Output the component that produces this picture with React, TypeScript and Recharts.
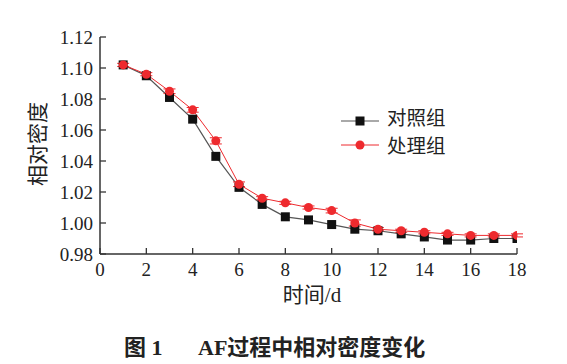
import React from 'react';
import { LineChart, Line, XAxis, YAxis, ErrorBar } from 'recharts';

const days = [1, 2, 3, 4, 5, 6, 7, 8, 9, 10, 11, 12, 13, 14, 15, 16, 17, 18];
const controlValues = [1.102, 1.095, 1.081, 1.067, 1.043, 1.023, 1.012, 1.004, 1.002, 0.999, 0.996, 0.995, 0.993, 0.991, 0.989, 0.989, 0.990, 0.990];
const treatValues = [1.102, 1.096, 1.085, 1.073, 1.053, 1.025, 1.016, 1.013, 1.010, 1.008, 1.000, 0.996, 0.995, 0.994, 0.993, 0.992, 0.992, 0.992];
const treatErrors = [0.001, 0.001, 0.0015, 0.0015, 0.002, 0.0015, 0.001, 0.001, 0.001, 0.0015, 0.002, 0.001, 0.001, 0.001, 0.001, 0.001, 0.001, 0.001];
const xTicks = [0, 2, 4, 6, 8, 10, 12, 14, 16, 18];
const yTicks = [0.98, 1.0, 1.02, 1.04, 1.06, 1.08, 1.1, 1.12];
const seriesNames = ['对照组', '处理组'];

const data = days.map((d, i) => ({ day: d, control: controlValues[i], treat: treatValues[i], treatErr: treatErrors[i] }));

const SERIF = '"Liberation Serif", "Times New Roman", serif';
const CJK = '"Noto Sans CJK SC", sans-serif';
const AXIS = '#333';
const RED = '#ee2a2e';

const XTick = (props: any) => {
  const { x, y, payload } = props;
  return (
    <g>
      <line x1={x} x2={x} y1={y} y2={y - 6} stroke={AXIS} strokeWidth={1.3} />
      <text x={x} y={y + 22} textAnchor="middle" fontFamily={SERIF} fontSize={19} fill="#222">{payload.value}</text>
    </g>
  );
};

const YTick = (props: any) => {
  const { x, y, payload } = props;
  return (
    <g>
      <line x1={x} x2={x + 6} y1={y} y2={y} stroke={AXIS} strokeWidth={1.3} />
      <text x={x - 7} y={y + 6.5} textAnchor="end" fontFamily={SERIF} fontSize={19} fill="#222">{Number(payload.value).toFixed(2)}</text>
    </g>
  );
};

const SquareDot = (props: any) => {
  const { cx, cy, index } = props;
  if (cx == null || cy == null) return <g key={index} />;
  return <rect key={index} x={cx - 4.5} y={cy - 4.5} width={9} height={9} fill="#111" />;
};

const CircleDot = (props: any) => {
  const { cx, cy, index } = props;
  if (cx == null || cy == null) return <g key={index} />;
  return <circle key={index} cx={cx} cy={cy} r={4.5} fill={RED} />;
};

export default function App() {
  return (
    <div style={{ position: 'absolute', left: 0, top: 0, width: 567, height: 364, background: '#fff' }}>
      <LineChart width={567} height={320} data={data} margin={{ top: 37, right: 50, left: 40, bottom: 36 }}>
        <XAxis
          dataKey="day"
          type="number"
          domain={[0, 18]}
          ticks={xTicks}
          interval={0}
          height={30}
          tickSize={0}
          tickMargin={0}
          stroke={AXIS}
          strokeWidth={1.5}
          tick={<XTick />}
          allowDataOverflow
        />
        <YAxis
          type="number"
          domain={[0.98, 1.12]}
          ticks={yTicks}
          interval={0}
          width={60}
          tickSize={0}
          tickMargin={0}
          stroke={AXIS}
          strokeWidth={1.5}
          tick={<YTick />}
          allowDataOverflow
        />
        <Line dataKey="control" name={seriesNames[0]} stroke="#555" strokeWidth={1.2} dot={<SquareDot />} isAnimationActive={false} />
        <Line dataKey="treat" name={seriesNames[1]} stroke={RED} strokeWidth={1} dot={<CircleDot />} isAnimationActive={false}>
          <ErrorBar dataKey="treatErr" direction="y" width={6} stroke={RED} strokeWidth={1} />
        </Line>
      </LineChart>
      <div style={{ position: 'absolute', left: 0, top: 0, width: 567, height: 364, pointerEvents: 'none' }}>
        <div style={{ position: 'absolute', left: 36, top: 144, transform: 'translate(-50%, -50%) rotate(-90deg)', fontFamily: CJK, fontSize: 21, lineHeight: '22px', color: '#222', whiteSpace: 'nowrap' }}>相对密度</div>
        <div style={{ position: 'absolute', left: 312, top: 295, transform: 'translate(-50%, -50%)', fontFamily: `${SERIF}, ${CJK}`, fontSize: 21, lineHeight: '22px', color: '#222', whiteSpace: 'nowrap' }}>时间/d</div>
        <svg style={{ position: 'absolute', left: 0, top: 0 }} width={567} height={364}>
          <line x1={341} x2={379} y1={121} y2={121} stroke="#555" strokeWidth={1.2} />
          <rect x={355.5} y={116.5} width={9} height={9} fill="#111" />
          <line x1={341} x2={379} y1={145} y2={145} stroke={RED} strokeWidth={1} />
          <circle cx={360} cy={145} r={4.5} fill={RED} />
        </svg>
        <div style={{ position: 'absolute', left: 387, top: 117, transform: 'translateY(-50%)', fontFamily: CJK, fontSize: 19.5, lineHeight: '20px', color: '#222', whiteSpace: 'nowrap' }}>{seriesNames[0]}</div>
        <div style={{ position: 'absolute', left: 387, top: 145, transform: 'translateY(-50%)', fontFamily: CJK, fontSize: 19.5, lineHeight: '20px', color: '#222', whiteSpace: 'nowrap' }}>{seriesNames[1]}</div>
        <div style={{ position: 'absolute', left: 124, top: 348, transform: 'translateY(-50%)', fontFamily: `${SERIF}, ${CJK}`, fontSize: 22, lineHeight: '24px', fontWeight: 'bold', color: '#222', whiteSpace: 'nowrap' }}>图 1</div>
        <div style={{ position: 'absolute', left: 198, top: 348, transform: 'translateY(-50%)', fontFamily: `${SERIF}, ${CJK}`, fontSize: 22, lineHeight: '24px', fontWeight: 'bold', color: '#222', whiteSpace: 'nowrap' }}>AF过程中相对密度变化</div>
      </div>
    </div>
  );
}
